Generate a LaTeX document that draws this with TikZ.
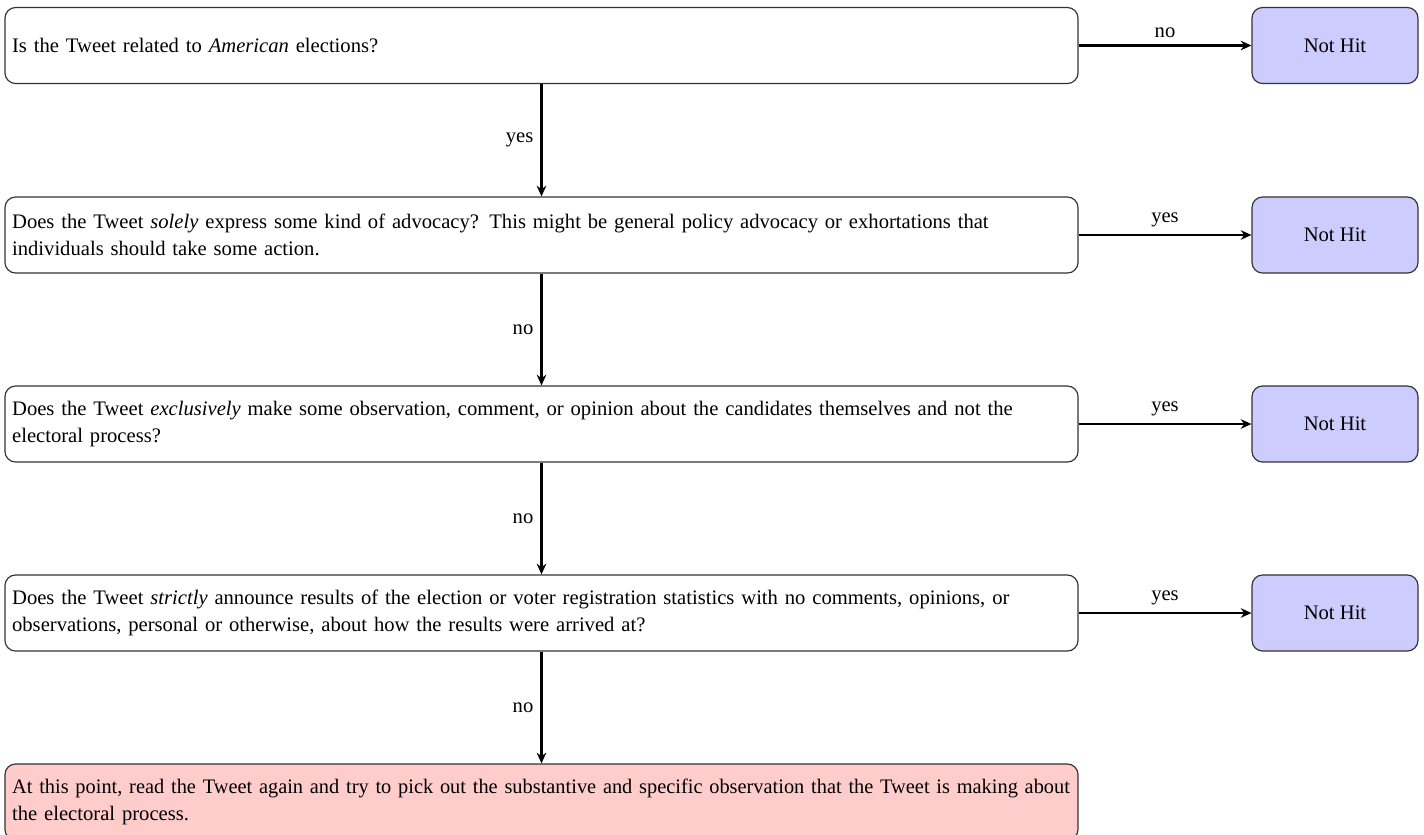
\documentclass[tikz,border=0pt]{standalone}
\usepackage{fontspec}
\usepackage{graphicx}
\setmainfont{Liberation Serif}
\usetikzlibrary{arrows.meta}
\begin{document}
\begin{tikzpicture}[x=0.468pt,y=-0.468pt,
  font=\fontsize{9.65}{12.6}\selectfont,
  qbox/.style={draw=black!80, line width=0.55pt, rounded corners=5pt,
    minimum width=502.2pt, minimum height=35.6pt, text width=495.5pt,
    inner sep=3.33pt, align=left},
  hitbox/.style={draw=black!80, line width=0.55pt, rounded corners=5pt,
    fill=blue!20, minimum width=77.7pt, minimum height=35.6pt, align=center},
  arr/.style={line width=0.95pt, -{Stealth[length=5pt,width=4.5pt]}}]
\useasboundingbox (0,0) rectangle (1424,834);
\node[qbox] (q1) at (541.5,45.5) {Is the Tweet related to \emph{American} elections?};
\node[qbox] (q2) at (541.5,235) {Does the Tweet \emph{solely} express some kind of advocacy? This might be general policy advocacy or exhortations that\\individuals should take some action.};
\node[qbox] (q3) at (541.5,424) {Does the Tweet \emph{exclusively} make some observation, comment, or opinion about the candidates themselves and not the\\electoral process?};
\node[qbox] (q4) at (541.5,613) {Does the Tweet \emph{strictly} announce results of the election or voter registration statistics with no comments, opinions, or\\observations, personal or otherwise, about how the results were arrived at?};
\node[qbox, fill=red!20] (q5) at (541.5,802) {\resizebox{495pt}{\height}{At this point, read the Tweet again and try to pick out the substantive and specific observation that the Tweet is making about}\\the electoral process.};
\node[hitbox] (h1) at (1335,45.5) {Not Hit};
\node[hitbox] (h2) at (1335,235) {Not Hit};
\node[hitbox] (h3) at (1335,424) {Not Hit};
\node[hitbox] (h4) at (1335,613) {Not Hit};
\draw[arr] (q1.east) -- node[above] {no} (h1.west);
\draw[arr] (q2.east) -- node[above] {yes} (h2.west);
\draw[arr] (q3.east) -- node[above] {yes} (h3.west);
\draw[arr] (q4.east) -- node[above] {yes} (h4.west);
\draw[arr] (q1.south) -- node[left] {yes} (q2.north);
\draw[arr] (q2.south) -- node[left] {no} (q3.north);
\draw[arr] (q3.south) -- node[left] {no} (q4.north);
\draw[arr] (q4.south) -- node[left] {no} (q5.north);
\end{tikzpicture}
\end{document}
